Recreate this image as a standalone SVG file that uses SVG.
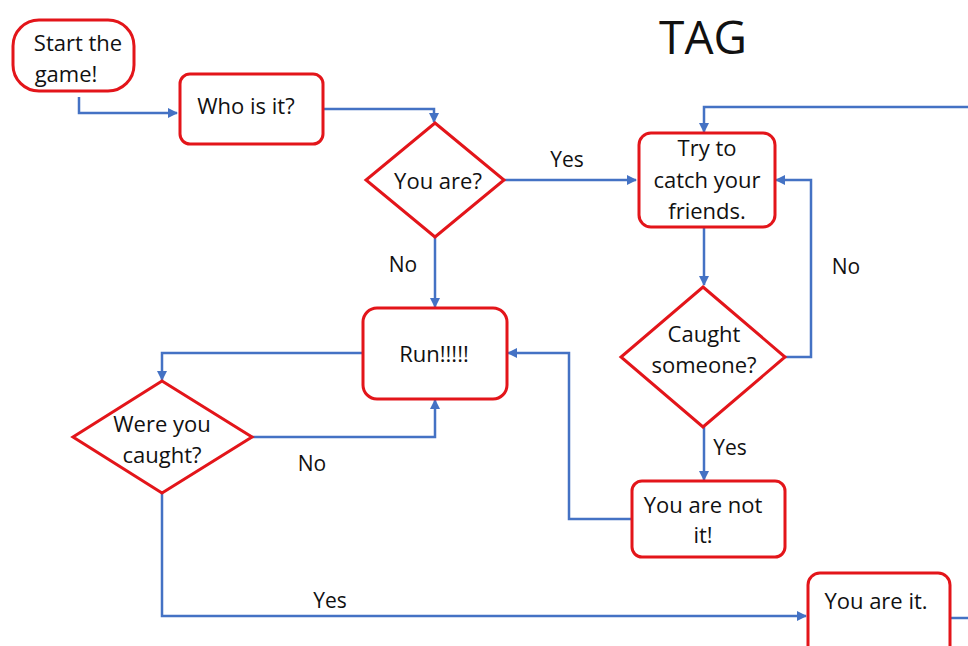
<svg xmlns="http://www.w3.org/2000/svg" width="968" height="646" viewBox="0 0 968 646">
<defs>
<style>
.n{fill:#fff;stroke:#e3151a;stroke-width:3}
.t{font-family:"Open Sans","Liberation Sans",sans-serif;font-size:22px;fill:#111;text-anchor:middle}
.c{fill:none;stroke:#4472c4;stroke-width:2.5}
.l{font-family:"Open Sans","Liberation Sans",sans-serif;font-size:21px;fill:#111;text-anchor:middle}
</style>
<marker id="a" viewBox="0 0 10 10" refX="9" refY="5" markerWidth="4" markerHeight="4" orient="auto" markerUnits="strokeWidth">
<path d="M0,0L10,5L0,10z" fill="#4472c4"/>
</marker>
</defs>
<rect width="968" height="646" fill="#fff"/>
<text x="703" y="54" font-family="'Open Sans','Liberation Sans',sans-serif" font-size="46" fill="#111" text-anchor="middle">TAG</text>
<g id="connectors">
<path class="c" d="M79,97V113H177" marker-end="url(#a)"/>
<path class="c" d="M323,109H434V122" marker-end="url(#a)"/>
<path class="c" d="M504,180H636" marker-end="url(#a)"/>
<path class="c" d="M435,237V307" marker-end="url(#a)"/>
<path class="c" d="M968,107H704V132" marker-end="url(#a)"/>
<path class="c" d="M704,227V285" marker-end="url(#a)"/>
<path class="c" d="M785,357H811V180H776" marker-end="url(#a)"/>
<path class="c" d="M704,427V480" marker-end="url(#a)"/>
<path class="c" d="M632,519H569V353H508" marker-end="url(#a)"/>
<path class="c" d="M363,353H162V380" marker-end="url(#a)"/>
<path class="c" d="M252,437H435V400" marker-end="url(#a)"/>
<path class="c" d="M162,493V616H806" marker-end="url(#a)"/>
<path class="c" d="M950,618H968"/>
<text class="l" x="567" y="167">Yes</text>
<text class="l" x="403" y="272">No</text>
<text class="l" x="846" y="274">No</text>
<text class="l" x="730" y="455">Yes</text>
<text class="l" x="312" y="471">No</text>
<text class="l" x="330" y="608">Yes</text>
</g>
<g id="start">
<rect class="n" x="13" y="20" width="121" height="71" rx="26"/>
<text class="t" x="78" y="51">Start the</text>
<text class="t" x="66" y="82">game!</text>
</g>
<g id="who">
<rect class="n" x="180" y="74" width="143" height="70" rx="10"/>
<text class="t" x="246" y="114">Who is it?</text>
</g>
<g id="youare">
<path class="n" d="M435,123L504,180L435,237L366,180Z"/>
<text class="t" x="438" y="189">You are?</text>
</g>
<g id="try">
<rect class="n" x="639" y="133" width="136" height="94" rx="12"/>
<text class="t" x="707" y="156">Try to</text>
<text class="t" x="707" y="188">catch your</text>
<text class="t" x="707" y="219">friends.</text>
</g>
<g id="caught">
<path class="n" d="M703,287L785,357L703,427L621,357Z"/>
<text class="t" x="704" y="342">Caught</text>
<text class="t" x="704" y="373">someone?</text>
</g>
<g id="notit">
<rect class="n" x="632" y="481" width="153" height="76" rx="10"/>
<text class="t" x="703" y="513">You are not</text>
<text class="t" x="703" y="543">it!</text>
</g>
<g id="run">
<rect class="n" x="363" y="308" width="144" height="91" rx="14"/>
<text class="t" x="434" y="362">Run!!!!!</text>
</g>
<g id="were">
<path class="n" d="M162,381L252,437L162,493L73,437Z"/>
<text class="t" x="162" y="432">Were you</text>
<text class="t" x="162" y="463">caught?</text>
</g>
<g id="it">
<rect class="n" x="808" y="573" width="142" height="90" rx="12"/>
<text class="t" x="876" y="609">You are it.</text>
</g>
</svg>
